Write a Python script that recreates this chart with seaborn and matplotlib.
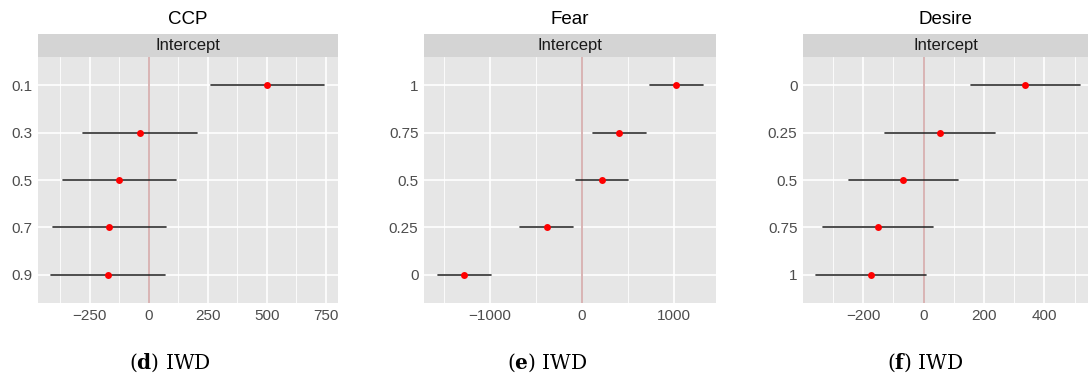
import numpy as np
import pandas as pd
import seaborn as sns
import matplotlib.pyplot as plt
from matplotlib.patches import Rectangle
from matplotlib.ticker import MultipleLocator

# quantile labels and intercept estimates (with interval ends) per panel
ccp_q = ['0.1', '0.3', '0.5', '0.7', '0.9']
ccp_est = [500, -37, -126, -168, -172]
ccp_lo = [263, -278, -366, -408, -413]
ccp_hi = [740, 203, 113, 71, 68]

fear_q = ['1', '0.75', '0.5', '0.25', '0']
fear_est = [1025, 410, 221, -382, -1280]
fear_lo = [738, 120, -65, -670, -1570]
fear_hi = [1315, 698, 508, -95, -992]

desire_q = ['0', '0.25', '0.5', '0.75', '1']
desire_est = [337, 53, -67, -151, -175]
desire_lo = [157, -128, -248, -332, -356]
desire_hi = [519, 235, 115, 31, 7]

titles = ['CCP', 'Fear', 'Desire']
captions = ['d', 'e', 'f']
strip_label = 'Intercept'

sns.set_style('darkgrid')
plt.rcParams['font.family'] = ['Liberation Sans', 'DejaVu Sans']
plt.rcParams['mathtext.fontset'] = 'dejavuserif'

W, H = 1088, 380
fig = plt.figure(figsize=(W / 100, H / 100), dpi=100)

panels = [
    dict(q=ccp_q, est=ccp_est, lo=ccp_lo, hi=ccp_hi, left=38, width=300,
         xlim=(-470, 801), major=250, cap_x=170),
    dict(q=fear_q, est=fear_est, lo=fear_lo, hi=fear_hi, left=424, width=292,
         xlim=(-1717, 1461), major=1000, cap_x=547),
    dict(q=desire_q, est=desire_est, lo=desire_lo, hi=desire_hi, left=803, width=285,
         xlim=(-399, 544), major=200, cap_x=925),
]

top_px, bot_px = 57, 303
strip_h = 23 / (bot_px - top_px)

for p, title, cap in zip(panels, titles, captions):
    ax = fig.add_axes([p['left'] / W, 1 - bot_px / H, p['width'] / W, (bot_px - top_px) / H])
    ax.set_facecolor('#E6E6E6')
    rows = []
    for q, lo, e, hi in zip(p['q'], p['lo'], p['est'], p['hi']):
        rows += [(q, lo), (q, e), (q, hi)]
    df = pd.DataFrame(rows, columns=['q', 'value'])

    ax.axvline(0, color='#D6AEAE', lw=1.3, zorder=2)
    sns.pointplot(data=df, x='value', y='q', order=p['q'], estimator='median',
                  errorbar=('pi', 100), linestyle='none', markers='o', color='red',
                  markersize=5, markeredgewidth=0, zorder=4, capsize=0,
                  err_kws={'color': '#303030', 'linewidth': 1.2, 'zorder': 3}, ax=ax)

    n = len(p['q'])
    ax.set_xlim(*p['xlim'])
    ax.set_ylim(n - 1 + 0.6, -0.6)
    ax.xaxis.set_major_locator(MultipleLocator(p['major']))
    ax.xaxis.set_minor_locator(MultipleLocator(p['major'] / 2))
    ax.set_axisbelow(True)
    ax.grid(True, which='major', color='white', lw=1.2)
    ax.xaxis.grid(True, which='minor', color='white', lw=0.6)
    ax.yaxis.grid(True, which='major', color='white', lw=1.2)
    ax.set_xlabel('')
    ax.set_ylabel('')
    for s in ax.spines.values():
        s.set_visible(False)
    ax.tick_params(axis='both', which='major', length=2.5, width=0.8, color='#333333',
                   labelcolor='#4D4D4D', labelsize=11, pad=1.5)
    ax.tick_params(axis='x', which='minor', length=0)

    # facet strip
    ax.add_patch(Rectangle((0, 1), 1, strip_h, transform=ax.transAxes,
                           facecolor='#D4D4D4', edgecolor='none', clip_on=False))
    ax.text(0.5, 1 + strip_h / 2, strip_label, transform=ax.transAxes, ha='center',
            va='center', fontsize=12, color='#1A1A1A')
    ax.text(0.5, 1 + 37 / (bot_px - top_px), title, transform=ax.transAxes, ha='center',
            va='center', fontsize=13.5, color='black')

    fig.text(p['cap_x'] / W, 1 - 363 / H, r'($\mathbf{' + cap + r'}$) IWD',
             ha='center', va='center', fontsize=14.5, family='DejaVu Serif', color='black')

fig.savefig('out.png', dpi=100)
